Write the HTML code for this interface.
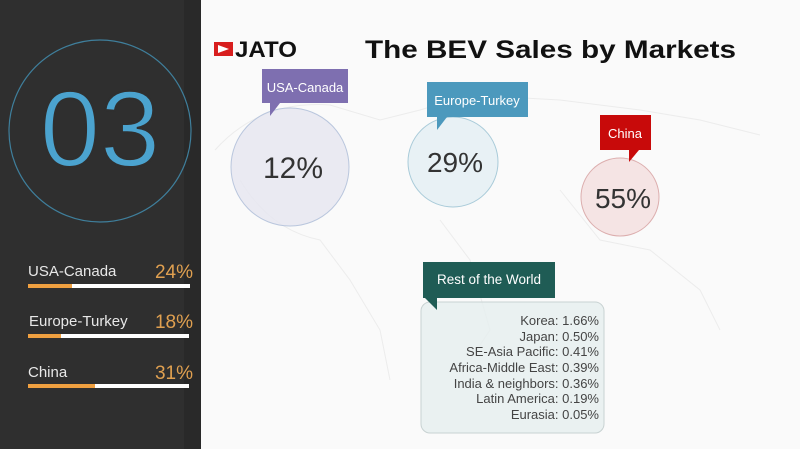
<!DOCTYPE html>
<html><head><style>
body{margin:0;width:800px;height:449px;overflow:hidden;background:#fafafa;font-family:"Liberation Sans",sans-serif;position:relative}
.a{position:absolute}
</style></head><body>
<div class="a" style="left:0;top:0;width:184px;height:449px;background:#2f2f2f"></div>
<div class="a" style="left:184px;top:0;width:17px;height:449px;background:#292929"></div>
<svg class="a" style="left:0;top:0" width="800" height="449">
<circle cx="100" cy="131" r="91" fill="none" stroke="#3f7f9c" stroke-width="1.2"/>
<text x="100" y="166" text-anchor="middle" font-size="108" fill="#4ba3cf" font-family="Liberation Sans" stroke="#2f2f2f" stroke-width="2">03</text>
<g fill="none" stroke="#ececec" stroke-width="1">
<path d="M215 150 Q260 100 330 105 L380 120 L420 110 L470 95 L560 100 L640 110 L700 120 L760 135"/>
<path d="M240 180 Q270 230 320 240 L350 280 L380 330 L390 380"/>
<path d="M440 220 L470 260 L490 330 L470 360"/>
<path d="M560 190 L600 240 L650 250 L700 290 L720 330"/>
</g>
<circle cx="290" cy="167" r="59" fill="#e6e6f0" fill-opacity="0.8" stroke="#b9c6dd"/>
<circle cx="453" cy="162" r="45" fill="#e4eff4" fill-opacity="0.8" stroke="#a9cbd9"/>
<circle cx="620" cy="197" r="39" fill="#f4dede" fill-opacity="0.8" stroke="#dcaeae"/>
<rect x="262" y="69" width="86" height="34" fill="#7e6fb0"/>
<polygon points="270,103 280,103 270,116" fill="#7e6fb0"/>
<text x="305" y="92" text-anchor="middle" font-size="13" fill="#fff">USA-Canada</text>
<rect x="427" y="82" width="101" height="35" fill="#4c99bd"/>
<polygon points="437,117 447,117 437,130" fill="#4c99bd"/>
<text x="477" y="105" text-anchor="middle" font-size="13" fill="#fff">Europe-Turkey</text>
<rect x="600" y="115" width="51" height="35" fill="#c80a0a"/>
<polygon points="629,150 639,150 629,162" fill="#c80a0a"/>
<text x="625" y="138" text-anchor="middle" font-size="13" fill="#fff">China</text>
<text x="293" y="178" text-anchor="middle" font-size="30" fill="#333">12%</text>
<text x="455" y="172" text-anchor="middle" font-size="28" fill="#333">29%</text>
<text x="623" y="208" text-anchor="middle" font-size="28" fill="#333">55%</text>
<rect x="421" y="302" width="183" height="131" rx="9" fill="#e6eeee" fill-opacity="0.85" stroke="#c8d2d2"/>
<rect x="423" y="262" width="132" height="36" fill="#1f5c55"/>
<polygon points="425,298 437,298 437,310" fill="#1f5c55"/>
<text x="489" y="284" text-anchor="middle" font-size="13.5" fill="#fff">Rest of the World</text>
<g font-size="13" fill="#444" text-anchor="end">
<text x="599" y="325">Korea: 1.66%</text>
<text x="599" y="341">Japan: 0.50%</text>
<text x="599" y="356">SE-Asia Pacific: 0.41%</text>
<text x="599" y="372">Africa-Middle East: 0.39%</text>
<text x="599" y="388">India &amp; neighbors: 0.36%</text>
<text x="599" y="403">Latin America: 0.19%</text>
<text x="599" y="419">Eurasia: 0.05%</text>
</g>
<rect x="214" y="42" width="19" height="14" fill="#d81e1e"/>
<polygon points="218,45 229,49 218,53" fill="#fff"/>
<text x="235" y="57" font-size="22" font-weight="bold" fill="#111" textLength="62" lengthAdjust="spacingAndGlyphs">JATO</text>
<text x="365" y="58" font-size="25" font-weight="bold" fill="#111" textLength="371" lengthAdjust="spacingAndGlyphs">The BEV Sales by Markets</text>
<g font-size="15" fill="#e8e8e8">
<text x="28" y="276">USA-Canada</text>
<text x="29" y="326">Europe-Turkey</text>
<text x="28" y="377">China</text>
</g>
<g font-size="19" fill="#e0a050" text-anchor="end">
<text x="193" y="278">24%</text>
<text x="193" y="328">18%</text>
<text x="193" y="379">31%</text>
</g>
<rect x="28" y="284" width="162" height="4" fill="#fff"/><rect x="28" y="284" width="44" height="4" fill="#f0a040"/>
<rect x="28" y="334" width="161" height="4" fill="#fff"/><rect x="28" y="334" width="33" height="4" fill="#f0a040"/>
<rect x="28" y="384" width="161" height="4" fill="#fff"/><rect x="28" y="384" width="67" height="4" fill="#f0a040"/>
</svg>
</body></html>
